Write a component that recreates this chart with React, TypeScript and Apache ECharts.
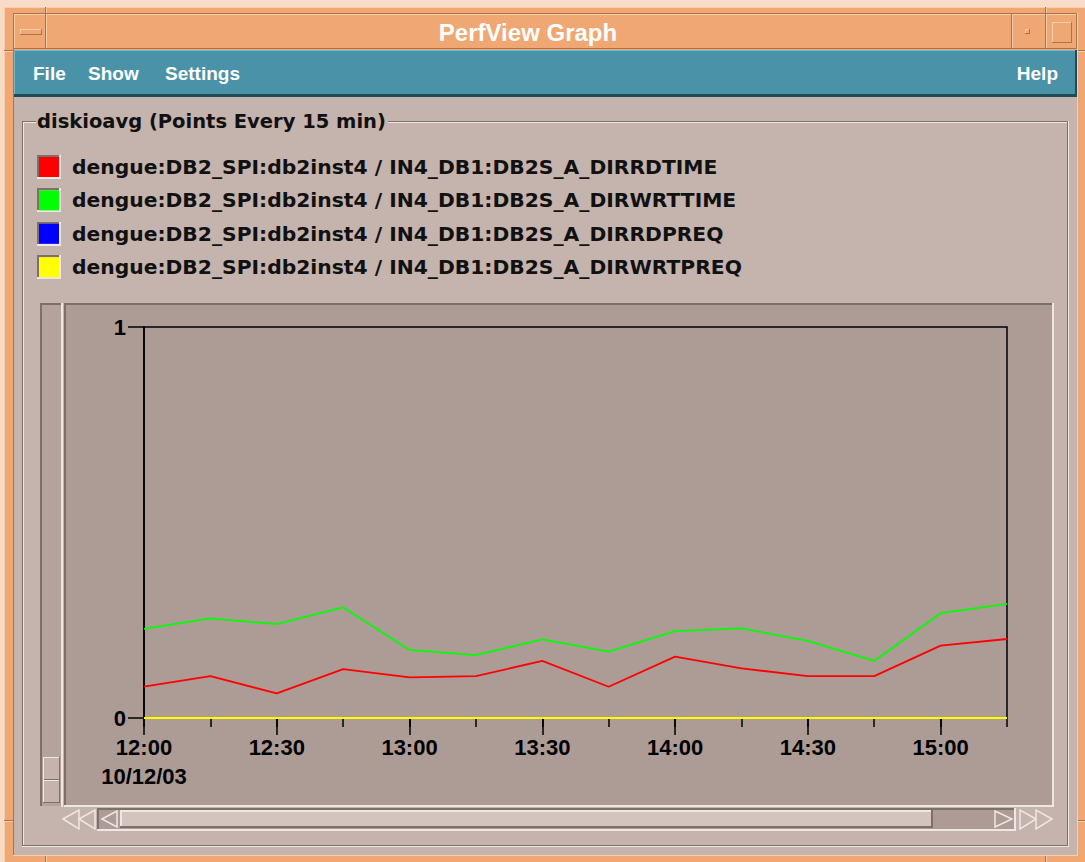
import React, { useEffect, useRef } from "react";
import * as echarts from "echarts";

// ---- data ----
const minutes = [0, 15, 30, 45, 60, 75, 90, 105, 120, 135, 150, 165, 180, 195];
const tickMinutes = [0, 30, 60, 90, 120, 150, 180];
const tickLabels = ["12:00", "12:30", "13:00", "13:30", "14:00", "14:30", "15:00"];
const dateLabel = "10/12/03";
const seriesNames = [
  "dengue:DB2_SPI:db2inst4 / IN4_DB1:DB2S_A_DIRRDTIME",
  "dengue:DB2_SPI:db2inst4 / IN4_DB1:DB2S_A_DIRWRTTIME",
  "dengue:DB2_SPI:db2inst4 / IN4_DB1:DB2S_A_DIRRDPREQ",
  "dengue:DB2_SPI:db2inst4 / IN4_DB1:DB2S_A_DIRWRTPREQ",
];
const seriesColors = ["#ff0000", "#00ff00", "#0000ff", "#ffff00"];
const dirRdTime = [0.08, 0.107, 0.063, 0.125, 0.104, 0.107, 0.146, 0.08, 0.157, 0.127, 0.107, 0.107, 0.185, 0.202];
const dirWrtTime = [0.228, 0.255, 0.24, 0.283, 0.174, 0.161, 0.201, 0.17, 0.222, 0.229, 0.197, 0.146, 0.268, 0.292];
const dirRdPreq = [0, 0, 0, 0, 0, 0, 0, 0, 0, 0, 0, 0, 0, 0];
const dirWrtPreq = [0, 0, 0, 0, 0, 0, 0, 0, 0, 0, 0, 0, 0, 0];
const seriesValues = [dirRdTime, dirWrtTime, dirRdPreq, dirWrtPreq];
const menuLeft = ["File", "Show", "Settings"];
const menuRight = "Help";
const windowTitle = "PerfView Graph";
const groupTitle = "diskioavg (Points Every 15 min)";

// ---- colours ----
const C = {
  pale: "#f9dcc8",
  orange: "#efa873",
  orangeLt: "#f9cda9",
  orangeDk: "#a9734c",
  teal: "#4a92a7",
  tealLt: "#7db7c7",
  tealDk: "#1f4c59",
  body: "#c5b3ad",
  bodyLt: "#f0e7e3",
  bodyDk: "#7d6f6a",
  panel: "#ad9b95",
  trough: "#b4a29c",
  thumb: "#d3c4be",
};

const R = (x: number, y: number, w: number, h: number, fill: string) => ({
  type: "rect",
  silent: true,
  shape: { x, y, width: w, height: h },
  style: { fill },
});

function bevel(x: number, y: number, w: number, h: number, tl: string, br: string, t = 1) {
  return [
    R(x, y, w, t, tl),
    R(x, y, t, h, tl),
    R(x, y + h - t, w, t, br),
    R(x + w - t, y, t, h, br),
  ];
}

const T = (
  text: string,
  x: number,
  y: number,
  size: number,
  fill: string,
  family: string,
  weight: string,
  align = "left"
) => ({
  type: "text",
  silent: true,
  x,
  y,
  style: {
    text,
    fill,
    fontSize: size,
    fontFamily: family,
    fontWeight: weight,
    textAlign: align,
    textVerticalAlign: "middle",
  },
});

const tri = (pts: number[][]) => [
  {
    type: "polygon",
    silent: true,
    shape: { points: pts },
    style: { fill: C.body, stroke: C.bodyLt, lineWidth: 1.5 },
  },
];

const SANS = '"Liberation Sans", Arial, sans-serif';
const DEJ = '"DejaVu Sans", sans-serif';

function buildGraphics() {
  const g: any[] = [];
  // window frame
  g.push(R(0, 0, 1085, 862, C.pale));
  g.push(R(4, 7, 1081, 855, C.orange));
  g.push(R(4, 7, 1081, 1, C.orangeLt), R(4, 7, 1, 855, C.orangeLt));
  g.push(R(13, 13, 1065, 1, C.orangeDk), R(13, 13, 1, 843, C.orangeDk));
  g.push(R(13, 855, 1065, 1, C.orangeLt), R(1077, 13, 1, 843, C.orangeLt));
  // corner separators
  [45, 1045].forEach((x) => {
    g.push(R(x, 7, 1, 6, C.orangeDk), R(x + 1, 7, 1, 6, C.orangeLt));
    g.push(R(x, 856, 1, 6, C.orangeDk), R(x + 1, 856, 1, 6, C.orangeLt));
  });
  [50, 820].forEach((y) => {
    g.push(R(4, y, 9, 1, C.orangeDk), R(4, y + 1, 9, 1, C.orangeLt));
    g.push(R(1078, y, 7, 1, C.orangeDk), R(1078, y + 1, 7, 1, C.orangeLt));
  });
  // title bar
  g.push(R(14, 14, 1063, 35, C.orange));
  g.push(...bevel(14, 14, 32, 35, C.orangeLt, C.orangeDk));
  g.push(...bevel(46, 14, 966, 35, C.orangeLt, C.orangeDk));
  g.push(...bevel(1012, 14, 34, 35, C.orangeLt, C.orangeDk));
  g.push(...bevel(1046, 14, 31, 35, C.orangeLt, C.orangeDk));
  g.push(...bevel(20, 29, 22, 6, C.orangeLt, C.orangeDk));
  g.push(...bevel(1025, 29, 5, 5, C.orangeLt, C.orangeDk));
  g.push(...bevel(1052, 22, 20, 21, C.orangeLt, C.orangeDk));
  g.push(T(windowTitle, 528, 32, 24, "#ffffff", SANS, "bold", "center"));
  // menu bar
  g.push(R(14, 50, 1063, 47, C.teal));
  g.push(R(14, 50, 1063, 1, C.tealLt), R(14, 50, 1, 47, C.tealLt));
  g.push(R(14, 94, 1063, 3, C.tealDk), R(1075, 50, 2, 47, C.tealDk));
  const menuX = [33, 88, 165];
  menuLeft.forEach((m, i) => g.push(T(m, menuX[i], 73, 19, "#ffffff", SANS, "bold")));
  g.push(T(menuRight, 1058, 73, 19, "#ffffff", SANS, "bold", "right"));
  // body
  g.push(R(14, 97, 1063, 758, C.body));
  // group frame (etched)
  g.push(R(22, 121, 14, 1, C.bodyDk), R(23, 122, 13, 1, C.bodyLt));
  g.push(R(388, 121, 681, 1, C.bodyDk), R(388, 122, 680, 1, C.bodyLt));
  g.push(R(22, 121, 1, 725, C.bodyDk), R(23, 122, 1, 723, C.bodyLt));
  g.push(R(1067, 121, 1, 725, C.bodyDk), R(1068, 121, 1, 726, C.bodyLt));
  g.push(R(22, 845, 1046, 1, C.bodyDk), R(22, 846, 1047, 1, C.bodyLt));
  g.push(T(groupTitle, 37, 121, 19.5, "#111111", DEJ, "bold"));
  // legend swatch frames
  seriesNames.forEach((_, i) => {
    const y = Math.round(155 + 33.4 * i);
    g.push(R(37, y, 24, 24, C.body));
    g.push(...bevel(37, y, 24, 24, C.bodyDk, C.bodyLt, 2));
  });
  // vertical scrollbar
  g.push(R(40, 303, 22, 503, C.trough));
  g.push(R(40, 303, 22, 2, C.bodyDk), R(40, 303, 2, 503, C.bodyDk));
  g.push(R(61, 303, 2, 504, C.bodyLt));
  g.push(R(43, 757, 17, 46, C.body));
  g.push(...bevel(43, 757, 17, 46, C.bodyLt, C.bodyDk, 1));
  g.push(R(44, 779, 15, 1, C.bodyDk), R(44, 780, 15, 1, C.bodyLt));
  // plot panel
  g.push(R(64, 303, 989, 503, C.panel));
  g.push(R(64, 303, 989, 2, C.bodyDk), R(64, 303, 2, 503, C.bodyDk));
  g.push(R(1052, 303, 2, 504, C.bodyLt), R(64, 805, 990, 2, C.bodyLt));
  // horizontal scrollbar
  g.push(R(97, 808, 918, 22, C.panel));
  g.push(R(97, 808, 918, 2, C.bodyDk), R(97, 808, 2, 22, C.bodyDk));
  g.push(R(97, 829, 918, 2, C.bodyLt), R(1014, 808, 2, 23, C.bodyLt));
  g.push(R(120, 810, 813, 18, C.thumb));
  g.push(...bevel(120, 810, 813, 18, C.bodyLt, C.bodyDk, 2));
  g.push(...tri([[63, 819], [79, 810], [79, 829]]));
  g.push(...tri([[79, 819], [95, 810], [95, 829]]));
  g.push({
    type: "polygon",
    silent: true,
    shape: { points: [[102, 819], [117, 811], [117, 827]] },
    style: { fill: C.panel, stroke: C.bodyLt, lineWidth: 1.5 },
  });
  g.push({
    type: "polygon",
    silent: true,
    shape: { points: [[995, 811], [995, 827], [1012, 819]] },
    style: { fill: C.panel, stroke: C.bodyLt, lineWidth: 1.5 },
  });
  g.push(...tri([[1020, 810], [1020, 829], [1036, 819]]));
  g.push(...tri([[1036, 810], [1036, 829], [1052, 819]]));
  return g;
}

const axisFont = { color: "#000", fontSize: 22, fontWeight: "bold", fontFamily: SANS };
const blackLine = { color: "#000", width: 1.5 };

function buildOption() {
  return {
    animation: false,
    graphic: { elements: buildGraphics() },
    legend: {
      data: seriesNames,
      orient: "vertical",
      left: 39,
      top: 157,
      padding: 0,
      itemWidth: 20,
      itemHeight: 20,
      itemGap: 13.4,
      icon: "rect",
      selectedMode: false,
      itemStyle: { borderWidth: 0 },
      textStyle: {
        color: "#111",
        fontSize: 20.3,
        fontWeight: "bold",
        fontFamily: DEJ,
        lineHeight: 20,
        padding: [0, 0, 0, 8],
      },
      z: 10,
    },
    grid: {
      left: 144,
      top: 327,
      width: 863,
      height: 391,
      show: true,
      borderColor: "#000",
      borderWidth: 1.5,
      backgroundColor: "transparent",
      z: 3,
    },
    xAxis: [
      {
        type: "value",
        min: 0,
        max: 195,
        position: "bottom",
        z: 5,
        axisLine: { show: true, lineStyle: blackLine },
        axisTick: { show: true, customValues: tickMinutes, length: 17, lineStyle: blackLine },
        axisLabel: {
          ...axisFont,
          customValues: tickMinutes,
          lineHeight: 29,
          margin: 15,
          verticalAlign: "top",
          formatter: (v: number) => {
            const i = tickMinutes.indexOf(v);
            const s = i >= 0 ? tickLabels[i] : "";
            return i === 0 ? s + "\n" + dateLabel : s;
          },
        },
        splitLine: { show: false },
      },
      {
        type: "value",
        min: 0,
        max: 195,
        position: "bottom",
        z: 5,
        axisLine: { show: false },
        axisTick: { show: true, customValues: minutes, length: 9, lineStyle: blackLine },
        axisLabel: { show: false },
        splitLine: { show: false },
      },
    ],
    yAxis: {
      type: "value",
      min: 0,
      max: 1,
      interval: 1,
      z: 5,
      axisLine: { show: true, lineStyle: blackLine },
      axisTick: { show: true, length: 16, lineStyle: blackLine },
      axisLabel: { ...axisFont, margin: 18 },
      splitLine: { show: false },
    },
    series: seriesNames.map((name, k) => ({
      type: "line",
      name,
      xAxisIndex: 0,
      yAxisIndex: 0,
      data: minutes.map((m, i) => [m, seriesValues[k][i]]),
      symbol: "none",
      silent: true,
      z: 6,
      lineStyle: { color: seriesColors[k], width: 1.8 },
      itemStyle: { color: seriesColors[k] },
    })),
  };
}

export default function App() {
  const ref = useRef<HTMLDivElement>(null);
  useEffect(() => {
    document.body.style.margin = "0";
    document.body.style.overflow = "hidden";
    const chart = echarts.init(ref.current!, null, { renderer: "svg", width: 1085, height: 862 });
    chart.setOption(buildOption() as any);
    return () => chart.dispose();
  }, []);
  return (
    <div
      ref={ref}
      style={{ position: "absolute", left: 0, top: 0, width: 1085, height: 862 }}
    />
  );
}
